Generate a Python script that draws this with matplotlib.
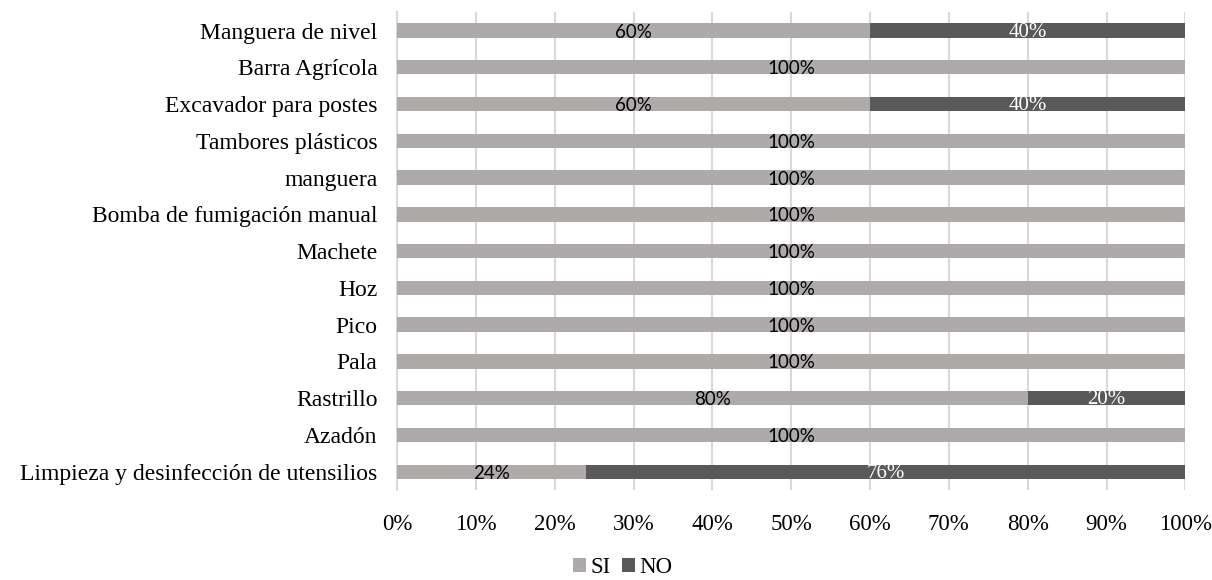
import matplotlib
matplotlib.use("Agg")
import matplotlib.pyplot as plt
import numpy as np

# Tools / practices, listed bottom-to-top as drawn on the y axis
categories = [
    "Limpieza y desinfección de utensilios",
    "Azadón",
    "Rastrillo",
    "Pala",
    "Pico",
    "Hoz",
    "Machete",
    "Bomba de fumigación manual",
    "manguera",
    "Tambores plásticos",
    "Excavador para postes",
    "Barra Agrícola",
    "Manguera de nivel",
]
si_values = [24, 100, 80, 100, 100, 100, 100, 100, 100, 100, 60, 100, 60]
no_values = [76, 0, 20, 0, 0, 0, 0, 0, 0, 0, 40, 0, 40]
x_ticks = [0, 10, 20, 30, 40, 50, 60, 70, 80, 90, 100]
series_names = ["SI", "NO"]

SI_COLOR = "#AEAAAA"
NO_COLOR = "#595959"
GRID_COLOR = "#D9D9D9"
SERIF = "Liberation Serif"
SANS = "Lato"

fig = plt.figure(figsize=(12.12, 5.8), dpi=100)
ax = fig.add_axes([0.3276, 0.155, 0.6504, 0.824])

y = np.arange(len(categories))
si = np.array(si_values, dtype=float)
no = np.array(no_values, dtype=float)
bar_h = 0.39

bars_si = ax.barh(y, si, height=bar_h, color=SI_COLOR, label=series_names[0], zorder=3)
bars_no = ax.barh(y, no, left=si, height=bar_h, color=NO_COLOR, label=series_names[1], zorder=3)

# Data labels centred in each segment
for yi, s, n in zip(y, si, no):
    if s > 0:
        ax.text(s / 2, yi - 0.04, f"{int(s)}%", ha="center", va="center",
                fontsize=13.5, family=SANS, color="black", zorder=4)
    if n > 0:
        ax.text(s + n / 2, yi - 0.04, f"{int(n)}%", ha="center", va="center",
                fontsize=15, family=SERIF, color="white", zorder=4)

ax.set_xlim(0, 100)
ax.set_ylim(-0.5, len(categories) - 0.5)
ax.set_xticks(x_ticks)
ax.set_xticklabels([f"{t}%" for t in x_ticks], family=SERIF, fontsize=16.5)
ax.set_yticks(y)
ax.set_yticklabels(categories, family=SERIF, fontsize=17)
ax.tick_params(axis="x", length=0, pad=17)
ax.tick_params(axis="y", length=0, pad=14)

ax.grid(axis="x", color=GRID_COLOR, linewidth=1.5, zorder=0)
ax.set_axisbelow(True)
for side in ["top", "right", "bottom"]:
    ax.spines[side].set_visible(False)
ax.spines["left"].set_color(GRID_COLOR)
ax.spines["left"].set_linewidth(1.5)

fig.legend(handles=[bars_si, bars_no], labels=series_names,
           loc="center", bbox_to_anchor=(0.514, 0.021), ncol=2, frameon=False,
           prop={"family": SERIF, "size": 16.5}, handlelength=0.55, handleheight=0.55,
           handletextpad=0.2, columnspacing=0.5, borderpad=0.0)

fig.savefig("out.png", dpi=100)
